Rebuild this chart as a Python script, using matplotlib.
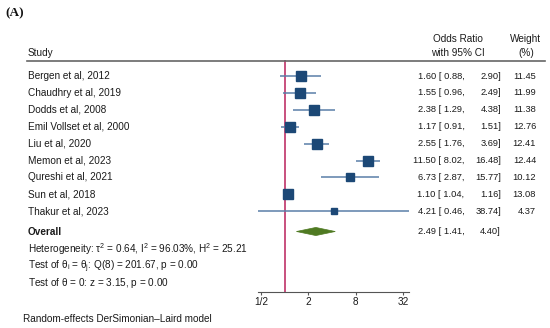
import numpy as np
import matplotlib
matplotlib.use("Agg")
import matplotlib.pyplot as plt
from matplotlib.transforms import blended_transform_factory
from matplotlib.patches import Polygon

plt.rcParams['font.family'] = ['Liberation Sans', 'DejaVu Sans']
plt.rcParams['mathtext.fontset'] = 'custom'
plt.rcParams['mathtext.rm'] = 'Liberation Sans'
plt.rcParams['mathtext.it'] = 'Liberation Sans'
plt.rcParams['mathtext.default'] = 'regular'

studies = ["Bergen et al, 2012", "Chaudhry et al, 2019", "Dodds et al, 2008",
           "Emil Vollset et al, 2000", "Liu et al, 2020", "Memon et al, 2023",
           "Qureshi et al, 2021", "Sun et al, 2018", "Thakur et al, 2023"]
odds = [1.60, 1.55, 2.38, 1.17, 2.55, 11.50, 6.73, 1.10, 4.21]
ci_low = [0.88, 0.96, 1.29, 0.91, 1.76, 8.02, 2.87, 1.04, 0.46]
ci_high = [2.90, 2.49, 4.38, 1.51, 3.69, 16.48, 15.77, 1.16, 38.74]
weights = [11.45, 11.99, 11.38, 12.76, 12.41, 12.44, 10.12, 13.08, 4.37]
overall = 2.49
overall_low = 1.41
overall_high = 4.40
tick_vals = [0.5, 2, 8, 32]
tick_labels = ["1/2", "2", "8", "32"]

W, H = 550, 328
fig = plt.figure(figsize=(5.5, 3.28), dpi=100)
ax = fig.add_axes([0, 0, 1, 1])
ax.set_xscale('log', base=2)
x0, k = 284.7, 23.65
ax.set_xlim(2 ** ((0 - x0) / k), 2 ** ((W - x0) / k))
r0, rs = 76.0, 16.9
ax.set_ylim((H - r0) / rs, (0 - r0) / rs)

for s in ['top', 'left', 'right']:
    ax.spines[s].set_visible(False)
axis_y = (291.7 - r0) / rs
ax.spines['bottom'].set_position(('data', axis_y))
ax.spines['bottom'].set_bounds(min(ci_low), max(ci_high))
ax.spines['bottom'].set_color('#555555')
ax.spines['bottom'].set_linewidth(0.8)
ax.set_xticks(tick_vals)
ax.set_xticklabels(tick_labels)
ax.minorticks_off()
ax.tick_params(axis='x', length=2.5, width=0.8, color='#555555', labelsize=7.2, pad=1.5, labelcolor='#1a1a1a')
ax.set_yticks([])

tr = blended_transform_factory(fig.transFigure, ax.transData)
fs = 7.2
fsn = 6.7
tc = '#1a1a1a'

def fx(px):
    return px / W

def fy(px):
    return (px - r0) / rs

ypos = np.arange(len(studies))
hdr_y = fy(61)

ax.plot([fx(27), fx(545)], [hdr_y, hdr_y], transform=tr, color='#666666', lw=1.2, clip_on=False)
ax.plot([1, 1], [hdr_y, axis_y], color='#c8507e', lw=1.4, zorder=1)

for i in range(len(studies)):
    ax.plot([ci_low[i], ci_high[i]], [ypos[i], ypos[i]], color='#5a7ea8', lw=1.1, zorder=2, solid_capstyle='butt')
    ax.plot(odds[i], ypos[i], marker='s', ms=1.98 * np.sqrt(weights[i]), color='#1c4876', zorder=3, mec='#1c4876')

ov_y = fy(231.5)
dh = 0.24
diamond = Polygon([[overall_low, ov_y], [overall, ov_y - dh], [overall_high, ov_y], [overall, ov_y + dh]],
                  closed=True, facecolor='#4f7a22', edgecolor='#4f7a22', lw=0.5, zorder=3)
ax.add_patch(diamond)

ax.text(fx(28), fy(53), "Study", transform=tr, fontsize=fs, color=tc, ha='left', va='center')
ax.text(fx(458), fy(39.3), "Odds Ratio", transform=tr, fontsize=fs, color=tc, ha='center', va='center')
ax.text(fx(458), fy(52.7), "with 95% CI", transform=tr, fontsize=fs, color=tc, ha='center', va='center')
ax.text(fx(526), fy(39.3), "Weight", transform=tr, fontsize=fs, color=tc, ha='center', va='center')
ax.text(fx(526), fy(52.7), "(%)", transform=tr, fontsize=fs, color=tc, ha='center', va='center')

for i, name in enumerate(studies):
    ax.text(fx(28), ypos[i], name, transform=tr, fontsize=fs, color=tc, ha='left', va='center')
    ax.text(fx(464.5), ypos[i], f"{odds[i]:.2f} [{ci_low[i]:5.2f},", transform=tr, fontsize=fsn, color=tc, ha='right', va='center')
    ax.text(fx(501), ypos[i], f"{ci_high[i]:.2f}]", transform=tr, fontsize=fsn, color=tc, ha='right', va='center')
    ax.text(fx(536), ypos[i], f"{weights[i]:.2f}", transform=tr, fontsize=fsn, color=tc, ha='right', va='center')

ax.text(fx(28), ov_y, "Overall", transform=tr, fontsize=fs, color=tc, ha='left', va='center', fontweight='bold')
ax.text(fx(464.5), ov_y, f"{overall:.2f} [{overall_low:5.2f},", transform=tr, fontsize=fsn, color=tc, ha='right', va='center')
ax.text(fx(501), ov_y, f"{overall_high:.2f}]", transform=tr, fontsize=fsn, color=tc, ha='right', va='center')

bo = 3.6
ax.text(fx(28), fy(249 + bo), r"Heterogeneity: $\tau^2$ = 0.64, I$^2$ = 96.03%, H$^2$ = 25.21",
        transform=tr, fontsize=fs, color=tc, ha='left', va='baseline')
ax.text(fx(28), fy(266 + bo), r"Test of $\theta_i$ = $\theta_j$: Q(8) = 201.67, p = 0.00",
        transform=tr, fontsize=fs, color=tc, ha='left', va='baseline')
ax.text(fx(28), fy(282.7 + bo), r"Test of $\theta$ = 0: z = 3.15, p = 0.00",
        transform=tr, fontsize=fs, color=tc, ha='left', va='baseline')
ax.text(fx(23), fy(319), "Random-effects DerSimonian\u2013Laird model",
        transform=tr, fontsize=fs, color=tc, ha='left', va='center')

ax.text(fx(5), fy(13), "(A)", transform=tr, fontsize=9.5, color='#111111', ha='left', va='center',
        fontweight='bold', family=['Liberation Serif', 'DejaVu Serif'])

fig.savefig("out.png", dpi=100)
